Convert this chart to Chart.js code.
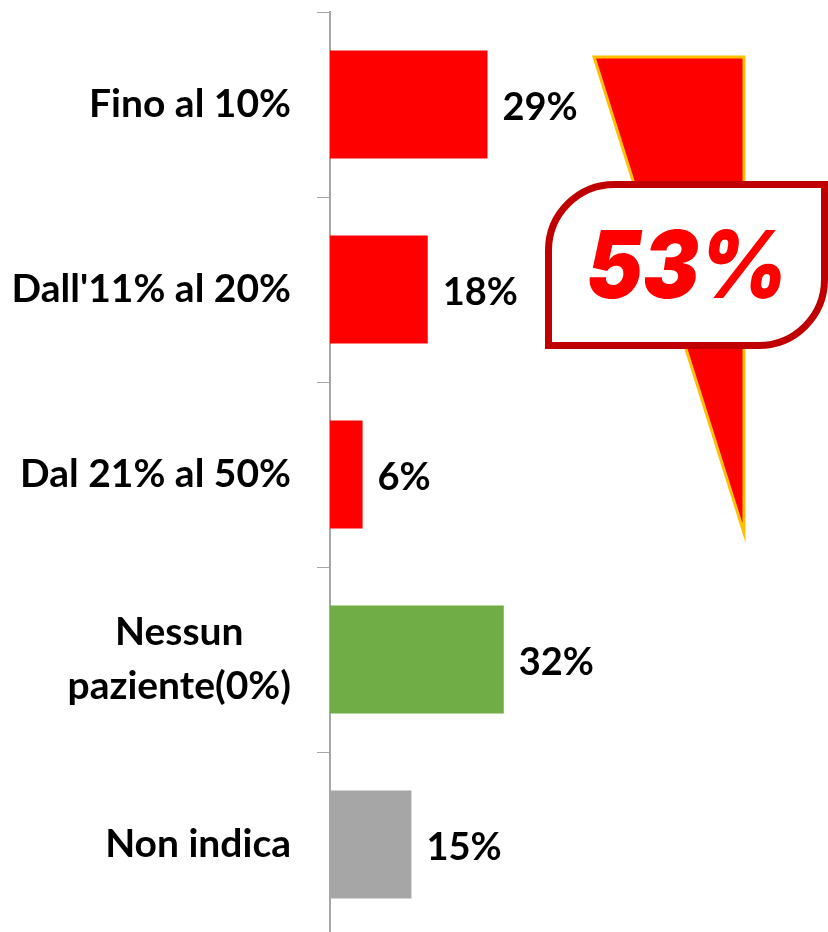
<!DOCTYPE html>
<html><head><meta charset="utf-8">
<style>html,body{margin:0;padding:0;background:#fff;overflow:hidden}#w{width:828px;height:932px;overflow:hidden}canvas{display:block}</style>
<script src="https://cdn.jsdelivr.net/npm/chart.js@4"></script></head>
<body><div id="w"><canvas id="c" width="828" height="940"></canvas></div>
<script>
const categories = [["Fino al 10%"],["Dall'11% al 20%"],["Dal 21% al 50%"],["Nessun\u00A0\u00A0\u00A0\u00A0\u00A0","paziente(0%)"],["Non indica"]];
const values = [29,18,6,32,15];
const barColors = ["#ff0000","#ff0000","#ff0000","#70ad47","#a6a6a6"];
const calloutText = "53%";
const FONT = "Lato, Carlito, sans-serif";

const labelsPlugin = {
  id:'valueLabels',
  afterDatasetsDraw(chart){
    const {ctx} = chart;
    ctx.save();
    ctx.font = "bold 38px "+FONT; ctx.fillStyle="#000"; ctx.textAlign="left"; ctx.textBaseline="middle";
    chart.getDatasetMeta(0).data.forEach((b,i)=>ctx.fillText(values[i]+"%", b.x+15, b.y+3));
    ctx.restore();
  }
};
const calloutPlugin = {
  id:'callout',
  afterDraw(chart){
    const {ctx} = chart;
    ctx.save();
    ctx.beginPath(); ctx.moveTo(594,57); ctx.lineTo(744,57); ctx.lineTo(744,533); ctx.closePath();
    ctx.fillStyle="#ff0000"; ctx.fill();
    ctx.strokeStyle="#ffc000"; ctx.lineWidth=3; ctx.lineJoin="miter"; ctx.stroke();
    const l=548.5,t=184.5,r=824.5,b=345.5,R=66;
    ctx.beginPath(); ctx.moveTo(l+R,t); ctx.lineTo(r,t); ctx.lineTo(r,b-R);
    ctx.arcTo(r,b,r-R,b,R); ctx.lineTo(l,b); ctx.lineTo(l,t+R); ctx.arcTo(l,t,l+R,t,R); ctx.closePath();
    ctx.fillStyle="#fff"; ctx.fill();
    ctx.strokeStyle="#c00000"; ctx.lineWidth=7; ctx.lineJoin="miter"; ctx.stroke();
    ctx.translate(687,298); ctx.scale(0.9,1);
    ctx.font="italic 900 94px Inter, "+FONT; ctx.fillStyle="#ff0000"; ctx.textAlign="center"; ctx.textBaseline="alphabetic";
    ctx.fillText(calloutText,0,0);
    ctx.restore();
  }
};
new Chart(document.getElementById('c'),{
  type:'bar',
  data:{labels:categories,datasets:[{data:values,backgroundColor:barColors,barPercentage:0.584,categoryPercentage:1,borderWidth:0}]},
  plugins:[labelsPlugin,calloutPlugin],
  options:{
    indexAxis:'y',responsive:false,animation:false,
    layout:{padding:{top:12,bottom:3,left:0,right:0}},
    plugins:{legend:{display:false},tooltip:{enabled:false}},
    scales:{
      x:{display:false,min:0,max:91.7},
      y:{
        afterFit(s){s.width=330;s.paddingTop=0;s.paddingBottom=0;},
        border:{display:true,color:"#a6a6a6",width:2},
        grid:{drawOnChartArea:false,color:"#a6a6a6",tickLength:13,lineWidth:1},
        ticks:{color:"#000",font:{family:FONT,weight:"bold",size:39,lineHeight:1.38},padding:26,autoSkip:false,maxRotation:0,minRotation:0}
      }
    }
  }
});
</script></body></html>
